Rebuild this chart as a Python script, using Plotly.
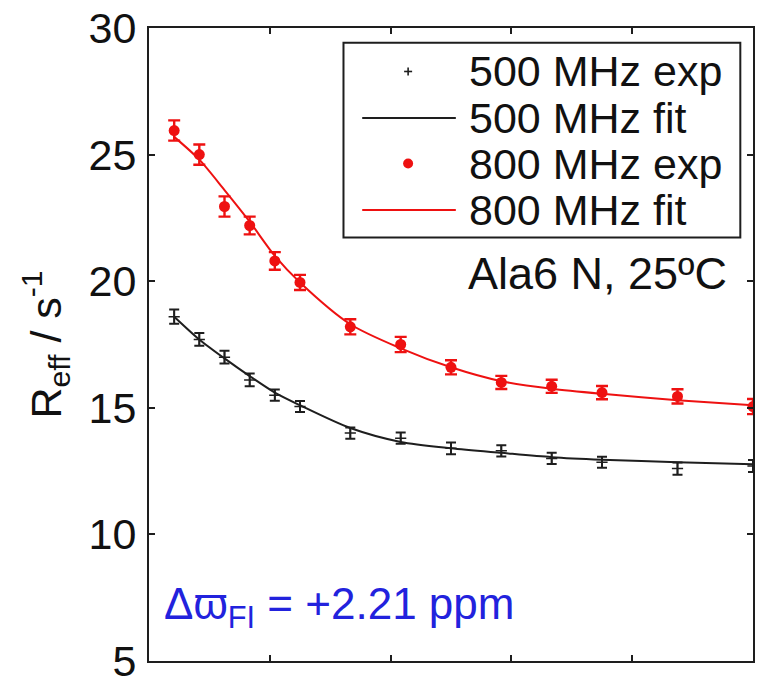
import plotly.graph_objects as go

# ---- data ----
nu_cpmg = [41.7, 83.3, 125.0, 166.7, 208.3, 250.0, 333.3, 416.7, 500.0, 583.3, 666.7, 750.0, 875.0, 1000.0]

r500_exp = [18.6, 17.7, 17.0, 16.1, 15.5, 15.05, 14.0, 13.8, 13.4, 13.3, 13.0, 12.85, 12.6, 12.7]
r500_err = [0.28, 0.25, 0.25, 0.25, 0.22, 0.22, 0.22, 0.22, 0.23, 0.22, 0.22, 0.22, 0.24, 0.24]
r500_fit = [18.6, 17.7, 16.95, 16.25, 15.6, 15.1, 14.2, 13.65, 13.4, 13.22, 13.05, 12.95, 12.85, 12.77]

r800_exp = [25.95, 25.0, 22.95, 22.2, 20.8, 19.95, 18.2, 17.5, 16.6, 16.0, 15.85, 15.6, 15.45, 15.05]
r800_err = [0.4, 0.4, 0.4, 0.35, 0.35, 0.3, 0.3, 0.3, 0.28, 0.26, 0.26, 0.26, 0.28, 0.3]
r800_fit = [25.7, 24.8, 23.6, 22.35, 21.0, 19.95, 18.3, 17.35, 16.6, 16.05, 15.75, 15.55, 15.3, 15.1]

legend_labels = ["500 MHz exp", "500 MHz fit", "800 MHz exp", "800 MHz fit"]
panel_label = "Ala6 N, 25ºC"
shift_label = "Δϖ<sub>FI</sub> = +2.21 ppm"
y_ticks = [5, 10, 15, 20, 25, 30]

BLACK = "#1e1e1e"
RED = "#ee1111"
BLUE = "#2222dd"
FONT = "Liberation Sans, Arial, Helvetica, sans-serif"

fig = go.Figure()

fig.add_trace(go.Scatter(
    x=nu_cpmg, y=r500_fit, mode="lines", name=legend_labels[1],
    line=dict(color=BLACK, width=2, shape="spline", smoothing=0.8), showlegend=False))
fig.add_trace(go.Scatter(
    x=nu_cpmg, y=r500_exp, mode="markers", name=legend_labels[0],
    marker=dict(symbol="cross-thin", size=8, line=dict(color=BLACK, width=1.5), color=BLACK),
    error_y=dict(type="data", array=r500_err, color=BLACK, thickness=2, width=5),
    showlegend=False))
fig.add_trace(go.Scatter(
    x=nu_cpmg, y=r800_fit, mode="lines", name=legend_labels[3],
    line=dict(color=RED, width=2, shape="spline", smoothing=0.8), showlegend=False))
fig.add_trace(go.Scatter(
    x=nu_cpmg, y=r800_exp, mode="markers", name=legend_labels[2],
    marker=dict(symbol="circle", size=11, color=RED),
    error_y=dict(type="data", array=r800_err, color=RED, thickness=2.4, width=6),
    showlegend=False))

# ---- hand-built legend (box, symbols, labels) ----
L_X0, L_X1, L_Y0, L_Y1 = 0.322, 0.979, 0.669, 0.9766
row_y = [0.9313, 0.8578, 0.7859, 0.7125]
sym_x0, sym_x1, sym_xc = 0.353, 0.508, 0.429
text_x = 0.526

shapes = [
    dict(type="rect", xref="paper", yref="paper", x0=L_X0, x1=L_X1, y0=L_Y0, y1=L_Y1,
         line=dict(color=BLACK, width=2), fillcolor="white", layer="above"),
    # "+" symbol
    dict(type="line", xref="paper", yref="paper", xsizemode="pixel", xanchor=sym_xc,
         x0=-4, x1=4, y0=row_y[0], y1=row_y[0], line=dict(color=BLACK, width=1.6)),
    dict(type="line", xref="paper", yref="paper", ysizemode="pixel", yanchor=row_y[0],
         x0=sym_xc, x1=sym_xc, y0=-4, y1=4, line=dict(color=BLACK, width=1.6)),
    # black line
    dict(type="line", xref="paper", yref="paper", x0=sym_x0, x1=sym_x1,
         y0=row_y[1], y1=row_y[1], line=dict(color=BLACK, width=2)),
    # red dot
    dict(type="circle", xref="paper", yref="paper", xsizemode="pixel", ysizemode="pixel",
         xanchor=sym_xc, yanchor=row_y[2], x0=-5, x1=5, y0=-5, y1=5,
         fillcolor=RED, line=dict(color=RED, width=0)),
    # red line
    dict(type="line", xref="paper", yref="paper", x0=sym_x0, x1=sym_x1,
         y0=row_y[3], y1=row_y[3], line=dict(color=RED, width=2)),
]

annotations = []
for lbl, yy in zip(legend_labels, row_y):
    annotations.append(dict(xref="paper", yref="paper", x=text_x, y=yy, text=lbl,
                            showarrow=False, xanchor="left", yanchor="middle",
                            font=dict(size=43, color="#111", family=FONT)))
annotations.append(dict(xref="paper", yref="paper", x=0.96, y=0.612, text=panel_label,
                        showarrow=False, xanchor="right", yanchor="middle",
                        font=dict(size=45, color="#111", family=FONT)))
annotations.append(dict(xref="paper", yref="paper", x=0.022, y=0.085, text=shift_label,
                        showarrow=False, xanchor="left", yanchor="middle",
                        font=dict(size=44, color=BLUE, family=FONT)))

fig.update_layout(
    width=757, height=687,
    margin=dict(l=149, r=2, t=28, b=19),
    paper_bgcolor="white", plot_bgcolor="white",
    font=dict(family=FONT, size=42, color="#111"),
    shapes=shapes, annotations=annotations,
    showlegend=False,
)
fig.update_xaxes(
    range=[0, 1000], dtick=200, tick0=0, showticklabels=False,
    ticks="inside", ticklen=6, tickwidth=1.5, tickcolor=BLACK,
    showline=True, linecolor=BLACK, linewidth=2, mirror="ticks",
    showgrid=False, zeroline=False,
)
fig.update_yaxes(
    range=[5, 30], tickvals=y_ticks, ticktext=[str(v) for v in y_ticks],
    ticks="inside", ticklen=6, tickwidth=1.5, tickcolor=BLACK,
    showline=True, linecolor=BLACK, linewidth=2, mirror="ticks",
    showgrid=False, zeroline=False,
    tickfont=dict(size=43, family=FONT, color="#111"),
    ticklabelstandoff=2, ticklabeloverflow="allow",
    title=dict(text="R<sub>eff</sub> / s<sup>-1</sup>", standoff=14,
               font=dict(size=43, family=FONT, color="#111")),
)

fig.write_html("out.html")
